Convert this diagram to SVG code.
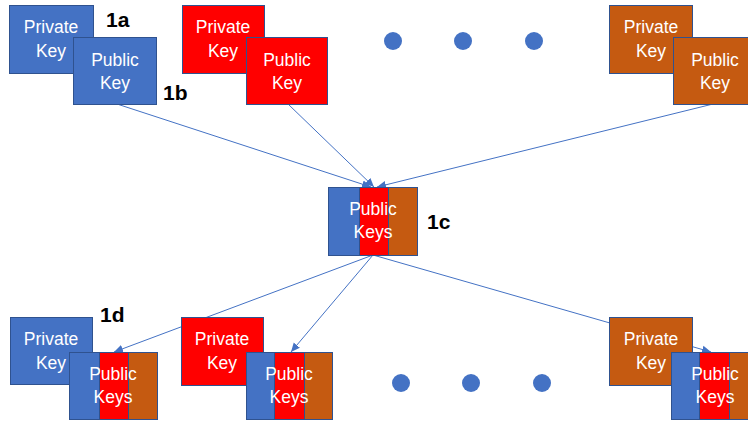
<svg xmlns="http://www.w3.org/2000/svg" width="748" height="423" viewBox="0 0 748 423">
  <style>
    .blue { fill: #4472C4; }
    .red { fill: #FF0000; }
    .orange { fill: #C55A11; }
    .box { stroke: #2F528F; stroke-width: 1; }
    .seg { stroke: none; }
    .frame { fill: none; stroke: #2F528F; stroke-width: 1; }
    .txt { font-family: "Liberation Sans", Arial, sans-serif; font-size: 17.5px; fill: #FFFFFF; text-anchor: middle; }
    .lbl { font-family: "Liberation Sans", Arial, sans-serif; font-size: 21px; font-weight: bold; fill: #000000; }
    .link { stroke: #4472C4; stroke-width: 1; fill: none; marker-end: url(#arrow); }
    .dot { fill: #4472C4; }
  </style>
  <defs>
    <marker id="arrow" markerUnits="userSpaceOnUse" markerWidth="10" markerHeight="10" refX="9" refY="5" orient="auto">
      <path d="M0,1 L9,5 L0,9 Z" fill="#4472C4"/>
    </marker>
  </defs>
  <rect width="748" height="423" fill="#FFFFFF"/>

  <!-- connectors (drawn beneath the key boxes) -->
  <g id="connectors">
    <line class="link" x1="117" y1="104" x2="371" y2="187"/>
    <line class="link" x1="288" y1="104" x2="374" y2="187"/>
    <line class="link" x1="713" y1="104" x2="377" y2="187"/>
    <line class="link" x1="373" y1="255" x2="114" y2="352"/>
    <line class="link" x1="373" y1="255" x2="291" y2="352"/>
    <line class="link" x1="373" y1="255" x2="711" y2="352"/>
  </g>

  <!-- top row: key pairs -->
  <g id="priv-1">
    <rect class="blue box" x="9.5" y="5.5" width="84" height="68"/>
    <text class="txt" x="51" y="33">Private</text>
    <text class="txt" x="51" y="57">Key</text>
  </g>
  <g id="pub-1">
    <rect class="blue box" x="73.5" y="37.5" width="83" height="67"/>
    <text class="txt" x="115" y="66">Public</text>
    <text class="txt" x="115" y="89">Key</text>
  </g>
  <g id="priv-2">
    <rect class="red box" x="182.5" y="5.5" width="82" height="68"/>
    <text class="txt" x="223" y="33">Private</text>
    <text class="txt" x="223" y="57">Key</text>
  </g>
  <g id="pub-2">
    <rect class="red box" x="246.5" y="37.5" width="81" height="67"/>
    <text class="txt" x="287" y="66">Public</text>
    <text class="txt" x="287" y="89">Key</text>
  </g>
  <g id="priv-n">
    <rect class="orange box" x="609.5" y="5.5" width="83" height="68"/>
    <text class="txt" x="651" y="33">Private</text>
    <text class="txt" x="651" y="57">Key</text>
  </g>
  <g id="pub-n">
    <rect class="orange box" x="673.5" y="37.5" width="83" height="67"/>
    <text class="txt" x="715" y="66">Public</text>
    <text class="txt" x="715" y="89">Key</text>
  </g>
  <g id="dots-top">
    <circle class="dot" cx="393" cy="41" r="9"/>
    <circle class="dot" cx="463" cy="41" r="9"/>
    <circle class="dot" cx="534" cy="41" r="9"/>
  </g>

  <!-- combined public keys -->
  <g id="pub-all">
    <rect class="blue seg" x="328.5" y="187.5" width="31" height="68"/>
    <rect class="red seg" x="359.5" y="187.5" width="29" height="68"/>
    <rect class="orange seg" x="388.5" y="187.5" width="29" height="68"/>
    <line x1="359.5" y1="187.5" x2="359.5" y2="255.5" stroke="#2F528F"/>
    <line x1="388.5" y1="187.5" x2="388.5" y2="255.5" stroke="#2F528F"/>
    <rect class="frame" x="328.5" y="187.5" width="89" height="68"/>
    <text class="txt" x="373" y="215">Public</text>
    <text class="txt" x="373" y="238">Keys</text>
  </g>

  <!-- bottom row: private key plus received public keys -->
  <g id="node-1">
    <rect class="blue box" x="10.5" y="317.5" width="82" height="67"/>
    <text class="txt" x="51" y="345">Private</text>
    <text class="txt" x="51" y="369">Key</text>
  </g>
  <g id="keys-1">
    <rect class="blue seg" x="69.5" y="352.5" width="30" height="67"/>
    <rect class="red seg" x="99.5" y="352.5" width="29" height="67"/>
    <rect class="orange seg" x="128.5" y="352.5" width="29" height="67"/>
    <line x1="99.5" y1="352.5" x2="99.5" y2="419.5" stroke="#2F528F"/>
    <line x1="128.5" y1="352.5" x2="128.5" y2="419.5" stroke="#2F528F"/>
    <rect class="frame" x="69.5" y="352.5" width="88" height="67"/>
    <text class="txt" x="113" y="380">Public</text>
    <text class="txt" x="113" y="403">Keys</text>
  </g>
  <g id="node-2">
    <rect class="red box" x="181.5" y="317.5" width="82" height="68"/>
    <text class="txt" x="222" y="345">Private</text>
    <text class="txt" x="222" y="369">Key</text>
  </g>
  <g id="keys-2">
    <rect class="blue seg" x="246.5" y="352.5" width="28" height="67"/>
    <rect class="red seg" x="274.5" y="352.5" width="30" height="67"/>
    <rect class="orange seg" x="304.5" y="352.5" width="28" height="67"/>
    <line x1="274.5" y1="352.5" x2="274.5" y2="419.5" stroke="#2F528F"/>
    <line x1="304.5" y1="352.5" x2="304.5" y2="419.5" stroke="#2F528F"/>
    <rect class="frame" x="246.5" y="352.5" width="86" height="67"/>
    <text class="txt" x="289" y="380">Public</text>
    <text class="txt" x="289" y="403">Keys</text>
  </g>
  <g id="node-n">
    <rect class="orange box" x="609.5" y="317.5" width="83" height="68"/>
    <text class="txt" x="651" y="345">Private</text>
    <text class="txt" x="651" y="369">Key</text>
  </g>
  <g id="keys-n">
    <rect class="blue seg" x="671.5" y="352.5" width="28" height="67"/>
    <rect class="red seg" x="699.5" y="352.5" width="30" height="67"/>
    <rect class="orange seg" x="729.5" y="352.5" width="30" height="67"/>
    <line x1="699.5" y1="352.5" x2="699.5" y2="419.5" stroke="#2F528F"/>
    <line x1="729.5" y1="352.5" x2="729.5" y2="419.5" stroke="#2F528F"/>
    <rect class="frame" x="671.5" y="352.5" width="88" height="67"/>
    <text class="txt" x="715" y="380">Public</text>
    <text class="txt" x="715" y="403">Keys</text>
  </g>
  <g id="dots-bottom">
    <circle class="dot" cx="401" cy="383" r="9"/>
    <circle class="dot" cx="471" cy="383" r="9"/>
    <circle class="dot" cx="542" cy="383" r="9"/>
  </g>

  <!-- step labels -->
  <g id="labels">
    <text class="lbl" x="106" y="27">1a</text>
    <text class="lbl" x="163" y="100">1b</text>
    <text class="lbl" x="427" y="229">1c</text>
    <text class="lbl" x="100" y="322">1d</text>
  </g>
</svg>
